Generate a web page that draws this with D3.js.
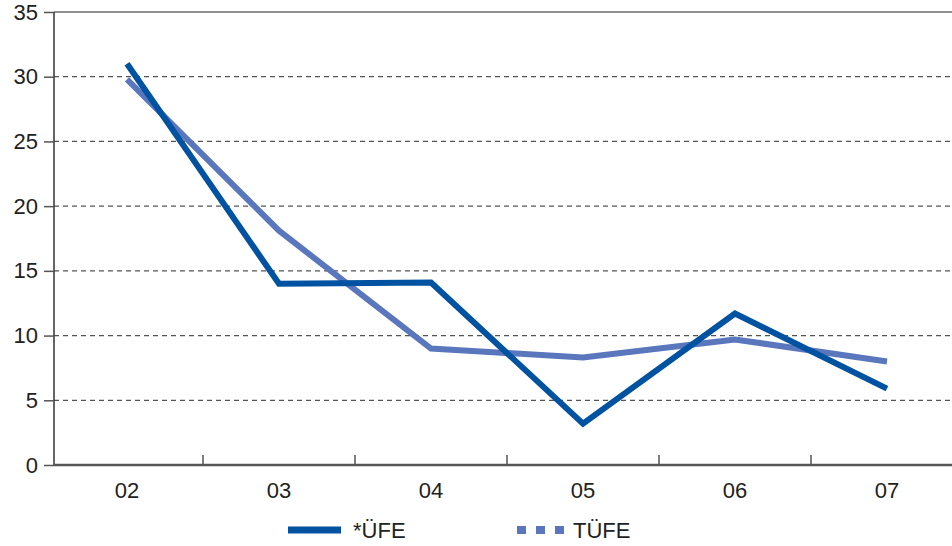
<!DOCTYPE html>
<html><head><meta charset="utf-8">
<script src="https://cdn.jsdelivr.net/npm/d3@7"></script>
<style>body{margin:0;background:#fff}svg{display:block}text{font-family:"Liberation Sans",Arial,sans-serif}</style>
</head><body><svg id="c" width="952" height="546"></svg>
<script>
const categories = ["02","03","04","05","06","07"];
const ufe = [31.0, 14.0, 14.1, 3.2, 11.7, 5.9];
const tufe = [29.8, 18.1, 9.0, 8.3, 9.7, 8.0];
const yTicks = [0,5,10,15,20,25,30,35];
const seriesNames = ["*ÜFE","TÜFE"];
const colors = ["#0152a1","#5a77bd"];

const svg = d3.select("#c");
const L = 54, R = 963, T = 12, B = 465;
const FS = 22;
const x = d3.scaleBand().domain(categories).range([L-3, R]);
const y = d3.scaleLinear().domain([0,35]).range([B, T]);
const cx = d => x(d) + x.bandwidth()/2;

// grid
svg.append("g").selectAll("line").data(yTicks.filter(v=>v>0 && v<35)).join("line")
  .attr("x1", L).attr("x2", 952).attr("y1", d=>y(d)).attr("y2", d=>y(d))
  .attr("stroke","#555").attr("stroke-width",1.2).attr("stroke-dasharray","5,4");
// top border
svg.append("line").attr("x1",L).attr("x2",952).attr("y1",y(35)).attr("y2",y(35)).attr("stroke","#222").attr("stroke-width",1.2);

// y axis
const ya = svg.append("g").attr("transform",`translate(${L},0)`)
  .call(d3.axisLeft(y).tickValues(yTicks).tickSize(10).tickPadding(6).tickFormat(d3.format("d")));
ya.select(".domain").attr("stroke","#333").attr("stroke-width",1.5).attr("d",`M0,${y(35)}V${B}`);
ya.selectAll(".tick line").attr("stroke","#555").attr("stroke-width",1.5);
ya.selectAll("text").attr("font-size",FS).attr("fill","#222").attr("font-family","Liberation Sans, Arial, sans-serif");

// x axis
const xa = svg.append("g").attr("transform",`translate(0,${B})`)
  .call(d3.axisBottom(x).tickSize(0).tickPadding(17));
xa.select(".domain").attr("stroke","#555").attr("stroke-width",2.5).attr("d",`M${L},0H952`);
xa.selectAll("text").attr("font-size",FS).attr("fill","#222").attr("font-family","Liberation Sans, Arial, sans-serif");
svg.append("g").selectAll("line").data(categories.slice(1)).join("line")
  .attr("x1", d=>x(d)).attr("x2", d=>x(d)).attr("y1", B-10).attr("y2", B)
  .attr("stroke","#555").attr("stroke-width",1.5);

// lines
const line = d3.line().x((d,i)=>cx(categories[i])).y(d=>y(d));
svg.append("path").datum(tufe).attr("d",line).attr("fill","none").attr("stroke",colors[1]).attr("stroke-width",6);
svg.append("path").datum(ufe).attr("d",line).attr("fill","none").attr("stroke",colors[0]).attr("stroke-width",6);

// legend
const lg = svg.append("g");
lg.append("line").attr("x1",288).attr("x2",341).attr("y1",530).attr("y2",530).attr("stroke",colors[0]).attr("stroke-width",7);
lg.append("text").attr("x",353).attr("y",538).attr("font-size",FS).attr("fill","#222").text(seriesNames[0]);
lg.append("line").attr("x1",517).attr("x2",567).attr("y1",530).attr("y2",530).attr("stroke",colors[1]).attr("stroke-width",8).attr("stroke-dasharray","9,10");
lg.append("text").attr("x",573).attr("y",538).attr("font-size",FS).attr("fill","#222").text(seriesNames[1]);
</script></body></html>
